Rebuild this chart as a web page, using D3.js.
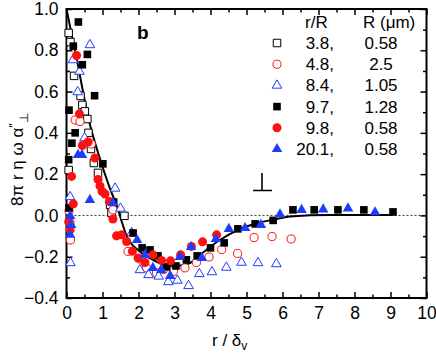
<!DOCTYPE html>
<html>
<head>
<meta charset="utf-8">
<script src="https://cdn.jsdelivr.net/npm/d3@7"></script>
<style>
  body { margin: 0; background: #fff; }
  svg text { font-family: "Liberation Sans", Arial, sans-serif; }
</style>
</head>
<body>
<script>
const w = 436;
const h = 353;

// series: [r/δv, 8πrηωα″⊥]
const openSquare38 = [[0.06,0.884],[0.11,0.84],[0.21,0.676],[0.39,0.579],[0.44,0.535],[0.51,0.504],[0.58,0.467],
  [0.61,0.40],[0.68,0.322],[0.76,0.254],[0.875,0.206],[0.06,0.22],[1.21,0.051],[1.25,0.012],[1.61,-0.002]];
const openCircle48 = [[0.24,0.462],[0.375,0.455],[0.69,0.346],[0.07,0.022],[0.10,-0.036],[0.11,-0.119],[1.29,0.027],
  [1.71,-0.174],[2.04,-0.211],[2.22,-0.254],[2.50,-0.278],[2.69,-0.262],[2.97,-0.271],[3.29,-0.254],[3.61,-0.228],
  [3.96,-0.201],[4.31,-0.165],[4.75,-0.184],[5.21,-0.107],[5.71,-0.102],[6.24,-0.114]];
const openTri84 = [[0.65,0.826],[0.18,0.753],[0.36,0.697],[0.31,0.598],[0.50,0.375],[0.10,0.09],[1.35,0.131],[1.50,0.034],
  [0.11,-0.23],[1.81,-0.085],[2.04,-0.264],[2.28,-0.288],[2.56,-0.295],[2.83,-0.322],[3.08,-0.315],[3.39,-0.341],
  [3.69,-0.283],[4.04,-0.274],[4.44,-0.252],[4.86,-0.228],[5.32,-0.23],[5.83,-0.235]];
const fillSquare97 = [[0.33,0.937],[0.19,0.82],[0.58,0.78],[0.44,0.73],[0.78,0.58],[0.07,0.51],[0.24,0.40],[0.15,0.35],
  [0.06,0.27],[1.01,0.25],[0.07,0.036],[1.31,0.065],[1.85,-0.085],[2.10,-0.157],[2.32,-0.167],[2.54,-0.196],
  [2.78,-0.249],[3.04,-0.245],[3.33,-0.215],[3.63,-0.196],[4.0,-0.157],[4.38,-0.133],[4.76,-0.065],[5.24,-0.041],
  [5.74,-0.024],[6.29,0.027],[6.88,0.027],[7.54,0.027],[8.26,0.027],[9.07,0.017]];
const fillCircle98 = [[0.28,0.775],[0.36,0.492],[0.44,0.339],[0.60,0.356],[0.79,0.278],[0.14,0.189],[0.19,0.056],
  [0.06,-0.031],[0.10,-0.07],[0.875,0.174],[0.93,0.143],[0.99,0.116],[1.07,0.104],[1.19,0.068],[1.29,-0.017],
  [1.39,-0.099],[1.53,-0.094],[1.67,-0.126],[1.83,-0.174],[1.99,-0.206],[2.18,-0.228],[2.40,-0.191],[2.64,-0.218],
  [2.89,-0.22],[3.17,-0.191],[3.47,-0.15],[3.78,-0.128],[4.17,-0.094]];
const fillTri201 = [[0.32,0.293],[0.43,0.293],[0.65,0.075],[0.10,-0.002],[0.13,-0.046],[0.10,-0.094],[1.29,0.061],
  [1.96,-0.119],[2.18,-0.191],[2.40,-0.254],[2.63,-0.264],[2.88,-0.293],[3.15,-0.201],[3.46,-0.153],[3.76,-0.206],
  [4.15,-0.114],[4.51,-0.065],[4.96,-0.061],[5.40,-0.046],[5.93,0.005],[6.53,0.027],[7.13,0.029],[7.82,0.034],[8.57,0.015]];

// theory curve
const curveX = [0, 0.31, 0.62, 0.97, 1.24, 1.41, 1.52, 1.67, 2.04, 2.41, 2.74, 3.06, 3.43, 3.71, 4.26, 4.77, 5.28, 5.84, 6.21, 7.32, 9.07];
const curveY = [1.0, 0.734, 0.462, 0.253, 0.115, 0.041, -0.022, -0.099, -0.175, -0.216, -0.240, -0.245, -0.231, -0.191, -0.119, -0.070, -0.038, -0.018, -0.005, 0.002, 0.002];

const xTicks = [0, 1, 2, 3, 4, 5, 6, 7, 8, 9, 10];
const yTicks = [-0.4, -0.2, 0.0, 0.2, 0.4, 0.6, 0.8, 1.0];

const legendRR = ["3.8,", "4.8,", "8.4,", "9.7,", "9.8,", "20.1,"];
const legendR = ["0.58", "2.5", "1.05", "1.28", "0.58", "0.58"];

const blue = "#1e3cff";
const red = "#ff1010";

const series = [
  { data: openSquare38, shape: d3.symbolSquare, size: 56, fill: "#fff", stroke: "#000" },
  { data: openCircle48, shape: d3.symbolCircle, size: 52, fill: "#fff", stroke: red },
  { data: openTri84, shape: d3.symbolTriangle, size: 40, fill: "#fff", stroke: blue },
  { data: fillSquare97, shape: d3.symbolSquare, size: 58, fill: "#000", stroke: "none" },
  { data: fillCircle98, shape: d3.symbolCircle, size: 64, fill: red, stroke: "none" },
  { data: fillTri201, shape: d3.symbolTriangle, size: 48, fill: blue, stroke: "none" }
];

const x = d3.scaleLinear().domain([0, 10]).range([66.5, 426.5]);
const y = d3.scaleLinear().domain([-0.4, 1.0]).range([298, 9]);

const svg = d3.select("body").append("svg").attr("width", w).attr("height", h);

// zero line
svg.append("line")
  .attr("x1", x(0)).attr("x2", x(10))
  .attr("y1", y(0)).attr("y2", y(0))
  .attr("stroke", "#000").attr("stroke-width", 0.8)
  .attr("stroke-dasharray", "2,2");

// axes, ticks inward
const fmtY = d3.format(".1f");
const addAxis = function (axis, tx, ty) {
  const g = svg.append("g").attr("transform", `translate(${tx},${ty})`).call(axis);
  g.select(".domain").remove();
  g.selectAll("line").attr("stroke-width", 1.5);
  g.selectAll("text").attr("font-size", 17.5).attr("fill", "#000");
  return g;
};
const minorX = d3.range(0.5, 10, 1);
const minorY = d3.range(-0.3, 1.0, 0.2);

addAxis(d3.axisBottom(x).tickValues(xTicks).tickSize(-6).tickPadding(9).tickFormat(d3.format("d")), 0, y(-0.4));
addAxis(d3.axisBottom(x).tickValues(minorX).tickSize(-3.5).tickFormat(""), 0, y(-0.4));
addAxis(d3.axisTop(x).tickValues(xTicks).tickSize(-6).tickFormat(""), 0, y(1.0));
addAxis(d3.axisTop(x).tickValues(minorX).tickSize(-3.5).tickFormat(""), 0, y(1.0));
addAxis(d3.axisLeft(y).tickValues(yTicks).tickSize(-6).tickPadding(8).tickFormat(fmtY), x(0), 0);
addAxis(d3.axisLeft(y).tickValues(minorY).tickSize(-3.5).tickFormat(""), x(0), 0);
addAxis(d3.axisRight(y).tickValues(yTicks).tickSize(-6).tickFormat(""), x(10), 0);
addAxis(d3.axisRight(y).tickValues(minorY).tickSize(-3.5).tickFormat(""), x(10), 0);

// frame
svg.append("rect")
  .attr("x", x(0)).attr("y", y(1.0))
  .attr("width", x(10) - x(0)).attr("height", y(-0.4) - y(1.0))
  .attr("fill", "none").attr("stroke", "#000").attr("stroke-width", 2);

// theory line
const line = d3.line()
  .x(function (d, i) { return x(curveX[i]); })
  .y(function (d, i) { return y(curveY[i]); })
  .curve(d3.curveMonotoneX);
svg.append("path")
  .datum(curveX)
  .attr("d", line)
  .attr("fill", "none").attr("stroke", "#000").attr("stroke-width", 2);

// markers
series.forEach(function (s) {
  svg.append("g")
    .selectAll("path")
    .data(s.data)
    .enter()
    .append("path")
    .attr("transform", function (d) { return `translate(${x(d[0])},${y(d[1])})`; })
    .attr("d", d3.symbol().type(s.shape).size(s.size))
    .attr("fill", s.fill)
    .attr("stroke", s.stroke)
    .attr("stroke-width", 1);
});

// perpendicular mark
svg.append("path")
  .attr("d", "M262,173V190.5M253,190.5H272")
  .attr("fill", "none").attr("stroke", "#000").attr("stroke-width", 1.6);

// panel letter
svg.append("text").attr("x", 137).attr("y", 39)
  .attr("font-size", 19).attr("font-weight", "bold").text("b");

// legend
const leg = svg.append("g").attr("font-size", 17);
leg.append("text").attr("x", 305).attr("y", 28).text("r/R");
leg.append("text").attr("x", 363).attr("y", 28).text("R (\u03bcm)");
legendRR.forEach(function (d, i) {
  const cy = 43 + i * 21.2;
  leg.append("path")
    .attr("transform", `translate(277,${cy})`)
    .attr("d", d3.symbol().type(series[i].shape).size(series[i].size))
    .attr("fill", series[i].fill)
    .attr("stroke", series[i].stroke)
    .attr("stroke-width", 1);
  leg.append("text").attr("x", 334).attr("y", cy + 6).attr("text-anchor", "end").text(d);
  leg.append("text").attr("x", 381).attr("y", cy + 6).attr("text-anchor", "middle").text(legendR[i]);
});

// axis titles
const xt = svg.append("text").attr("x", 212).attr("y", 346).attr("font-size", 17);
xt.append("tspan").text("r / \u03b4");
xt.append("tspan").attr("font-size", 12).attr("dy", 4).text("v");

const yt = svg.append("text")
  .attr("transform", "translate(23,206) rotate(-90)")
  .attr("font-size", 17);
yt.append("tspan").text("8\u03c0 r \u03b7 \u03c9 \u03b1");
yt.append("tspan").attr("font-size", 13).attr("dy", -5).text("\u2033");
yt.append("tspan").attr("font-size", 12).attr("dy", 10).text("\u22a5");
</script>
</body>
</html>
